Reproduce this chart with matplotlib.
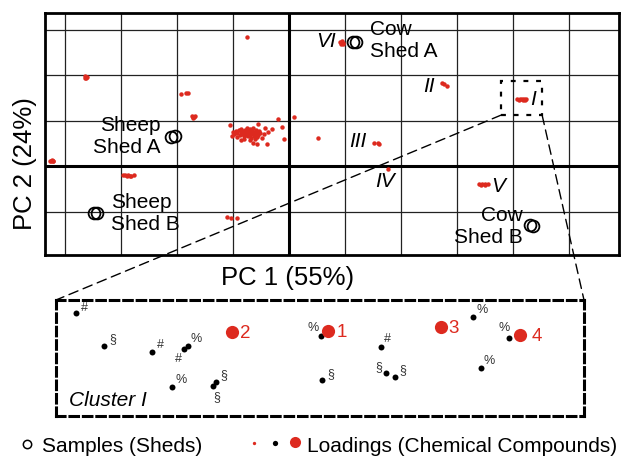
import matplotlib
matplotlib.use('Agg')
import matplotlib.pyplot as plt
from matplotlib.patches import Rectangle, ConnectionPatch

plt.rcParams['font.family'] = ['Liberation Sans', 'DejaVu Sans']

RED = '#dd2a1f'

# loadings (PC1, PC2) - red points in the score/loading plot
loadings_x = [-0.75,
              -3.65, -3.62, -3.63, -3.60, -3.64,
              -1.92, -1.84, -1.80,
              -1.74, -1.71, -1.68, -1.72, -1.69,
              -4.27, -4.24, -4.21, -4.25, -4.22,
              -2.97, -2.92, -2.87, -2.82, -2.77, -2.90, -2.84,
              -1.11, -1.04, -0.93,
              -0.95, -0.92, -0.90, -0.88, -0.86, -0.85, -0.83, -0.82, -0.80, -0.79,
              -0.78, -0.77, -0.76, -0.75, -0.74, -0.73, -0.72, -0.71, -0.70, -0.69,
              -0.68, -0.67, -0.66, -0.65, -0.64, -0.63, -0.62, -0.60, -0.59, -0.58,
              -0.57, -0.55, -0.54, -0.52, -0.98, -1.00, -0.93, -0.80, -0.70, -0.60,
              -0.19, 0.095, -0.12, -0.09, -1.05, -0.40, -0.55, -0.64, -0.58, -0.31,
              -0.37, -0.45, -0.48, -0.85, -1.02, -0.42,
              0.52,
              0.91, 0.94, 0.97, 0.93, 0.96,
              2.73, 2.77, 2.82,
              4.08, 4.12, 4.16, 4.20, 4.24, 4.10, 4.18, 4.22,
              1.51, 1.59, 1.60,
              1.76,
              3.40, 3.45, 3.50, 3.55, 3.43, 3.50]
loadings_y = [2.84,
              1.97, 1.95, 1.93, 1.96, 1.94,
              1.58, 1.60, 1.61,
              1.09, 1.08, 1.09, 1.06, 1.07,
              0.12, 0.13, 0.12, 0.10, 0.10,
              -0.20, -0.19, -0.20, -0.21, -0.20, -0.23, -0.23,
              -1.13, -1.15, -1.14,
              0.78, 0.72, 0.80, 0.68, 0.75, 0.82, 0.70, 0.77, 0.66, 0.73,
              0.80, 0.69, 0.76, 0.83, 0.71, 0.65, 0.78, 0.74, 0.68, 0.81,
              0.72, 0.62, 0.77, 0.70, 0.84, 0.66, 0.75, 0.71, 0.79, 0.64,
              0.73, 0.68, 0.77, 0.72, 0.70, 0.75, 0.64, 0.60, 0.58, 0.60,
              1.03, 1.07, 0.86, 0.59, 0.91, 0.48, 0.92, 0.50, 0.48, 0.81,
              0.75, 0.70, 0.62, 0.58, 0.66, 0.83,
              0.62,
              2.72, 2.74, 2.71, 2.69, 2.69,
              1.83, 1.80, 1.76,
              1.47, 1.48, 1.47, 1.47, 1.48, 1.45, 1.45, 1.45,
              0.50, 0.50, 0.49,
              -0.07,
              -0.40, -0.39, -0.39, -0.40, -0.42, -0.42]

# samples (two replicates per shed)
sample_x = [-2.10, -2.04, -3.49, -3.43, 1.15, 1.20, 4.30, 4.35]
sample_y = [0.64, 0.65, -1.04, -1.04, 2.73, 2.73, -1.30, -1.31]

shed_names = ['Sheep\nShed A', 'Sheep\nShed B', 'Cow\nShed A', 'Cow\nShed B']
cluster_names = ['VI', 'II', 'I', 'III', 'IV', 'V']

# cluster I zoom (inset units)
cl_x = [19.7, 48.3, 96, 127.7, 131.7, 116.3, 156.7, 160, 265, 266.3,
        324.7, 330, 338.7, 417.3, 453.3, 425]
cl_y = [102.7, 70.3, 63.7, 67, 70.3, 29.3, 30.3, 33.7, 80, 36,
        68.7, 43.3, 38.7, 99.3, 78.3, 48.3]
cl_sym = ['#', '§', '#', '#', '%', '%', '§', '§', '%', '§',
          '#', '§', '§', '%', '%', '%']
big_x = [272.3, 176.3, 384.7, 464]
big_y = [85.3, 84, 88.7, 80.7]
big_lab = ['1', '2', '3', '4']

fig = plt.figure(figsize=(6.21, 4.59), dpi=100)

ax = fig.add_axes([45 / 621, 1 - 255 / 459, 574 / 621, 242 / 459])
ax.set_xlim(-4.357, 5.893)
ax.set_ylim(-1.956, 3.363)
ax.set_xticks(range(-4, 6))
ax.set_yticks(range(-1, 4))
ax.tick_params(length=0, labelbottom=False, labelleft=False)
ax.grid(color='#222222', lw=0.9)
ax.axvline(0, color='k', lw=2.2)
ax.axhline(0, color='k', lw=2.2)
for s in ax.spines.values():
    s.set_linewidth(2)

ax.plot(loadings_x, loadings_y, 'o', color=RED, ms=3.2, mew=0, zorder=3)
ax.plot(sample_x, sample_y, 'o', mfc='none', mec='k', ms=8.5, mew=1.3, zorder=4)

fs = 15
ax.text(-2.29, 0.64, shed_names[0], ha='right', va='center', fontsize=fs)
ax.text(-3.18, -1.05, shed_names[1], ha='left', va='center', fontsize=fs)
ax.text(1.45, 2.75, shed_names[2], ha='left', va='center', fontsize=fs)
ax.text(4.18, -1.32, shed_names[3], ha='right', va='center', fontsize=fs)

rom_pos = [(0.84, 2.73, 'right'), (2.61, 1.74, 'right'), (4.36, 1.46, 'center'),
           (1.39, 0.53, 'right'), (1.71, -0.35, 'center'), (3.73, -0.44, 'center')]
for name, (x, y, h) in zip(cluster_names, rom_pos):
    ax.text(x, y, name, ha=h, va='center', fontsize=fs, style='italic')

ax.add_patch(Rectangle((3.79, 1.12), 0.73, 0.75, fill=False, ec='k', lw=1.6,
                       ls=(0, (2.2, 3.5)), zorder=5))

# inset
ax2 = fig.add_axes([56 / 621, 1 - 416 / 459, 528 / 621, 116 / 459])
ax2.set_xlim(0, 528)
ax2.set_ylim(0, 116)
ax2.set_xticks([])
ax2.set_yticks([])
for s in ax2.spines.values():
    s.set_linewidth(2.2)
    s.set_linestyle((0, (2.8, 1.6)))

ax2.plot(cl_x, cl_y, 'o', color='k', ms=4.3, mew=0)
offs = [(6, 4), (6, 5), (6, 5), (-4, -7), (6, 5), (6, 5), (3, -8), (6, 5),
        (-6, 6), (6, 4), (5, 6), (-5, 4), (6, 5), (6, 5), (-4, 7), (6, 5)]
for x, y, t, o in zip(cl_x, cl_y, cl_sym, offs):
    ax2.annotate(t, (x, y), xytext=o, textcoords='offset points', ha='center',
                 va='center', fontsize=9, color='#333333')
ax2.plot(big_x, big_y, 'o', color=RED, ms=9.5, mew=0)
for x, y, t in zip(big_x, big_y, big_lab):
    dx = 12 if t == '4' else 9.5
    ax2.annotate(t, (x, y), xytext=(dx, -1), textcoords='offset points', ha='center',
                 va='center', fontsize=13.5, color=RED)
ax2.text(13, 16, 'Cluster I', fontsize=15, style='italic', va='center', ha='left')

for xa, xb in [(3.79, 0), (4.52, 1)]:
    con = ConnectionPatch(xyA=(xa, 1.12), coordsA=ax.transData, xyB=(xb, 1),
                          coordsB=ax2.transAxes, color='k', lw=1, ls=(0, (7, 4)))
    fig.add_artist(con)

# overlay for labels and legend (pixel coordinates)
ov = fig.add_axes([0, 0, 1, 1], zorder=-1)
ov.set_xlim(0, 621)
ov.set_ylim(459, 0)
ov.axis('off')
ov.text(288, 278, 'PC 1 (55%)', ha='center', va='center', fontsize=18.5)
ov.text(25, 164, 'PC 2 (24%)', ha='center', va='center', fontsize=18.5, rotation=90)

ov.plot([27], [444], 'o', mfc='none', mec='k', ms=6, mew=1.1)
ov.text(42, 446, 'Samples (Sheds)', ha='left', va='center', fontsize=15)
ov.plot([254], [443], 'o', color=RED, ms=2.4, mew=0)
ov.plot([275], [443], 'o', color='k', ms=3.8, mew=0)
ov.plot([295], [442], 'o', color=RED, ms=8, mew=0)
ov.text(307, 446, 'Loadings (Chemical Compounds)', ha='left', va='center', fontsize=15)

fig.savefig('out.png', dpi=100)
